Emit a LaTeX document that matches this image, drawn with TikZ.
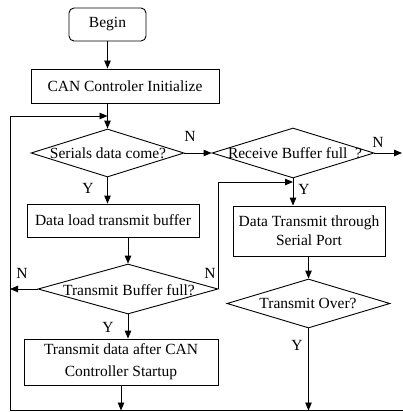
\documentclass[tikz,border=0pt]{standalone}
\usepackage{fontspec}
\setmainfont{Liberation Serif}
\usetikzlibrary{shapes.geometric,arrows.meta}
\begin{document}
\begin{tikzpicture}[x=1pt,y=-1pt,line width=0.9pt,
  every node/.style={font=\fontsize{15.5}{19}\selectfont},
  proc/.style={draw,rectangle,inner sep=0pt,align=center},
  startbox/.style={proc,rounded corners=5pt},
  decide/.style={draw,diamond,inner sep=0pt},
  flow/.style={-{Triangle[length=8pt,width=6.5pt]}}]
\useasboundingbox (0,0) rectangle (403,412);
\node[startbox,minimum width=77pt,minimum height=33pt] (begin) at (107.5,24.5) {Begin};
\node[proc,minimum width=188pt,minimum height=34pt] (init) at (125,86) {CAN Controler Initialize};
\node[decide,minimum width=153pt,minimum height=48pt] (serial) at (107.5,153) {};
\node (serialtxt) at (108,153) {Serials data come?};
\node[decide,minimum width=162pt,minimum height=50pt] (recv) at (293,153) {};
\node (recvtxt) at (295,153) {Receive Buffer full\ \ ?};
\node[proc,minimum width=172pt,minimum height=33pt] (load) at (113,220.5) {Data load transmit buffer};
\node[decide,minimum width=180pt,minimum height=50pt] (tbuf) at (128,289) {};
\node (tbuftxt) at (129,290) {Transmit Buffer full?};
\node[proc,minimum width=152pt,minimum height=50pt] (send) at (309,231) {Data Transmit through\\Serial Port};
\node[decide,minimum width=163pt,minimum height=49pt] (tover) at (308.5,303.5) {};
\node (tovertxt) at (308,303.5) {Transmit Over?};
\node[proc,minimum width=194pt,minimum height=46pt] (tdata) at (121,362) {Transmit data after CAN\\[3pt]Controller Startup};
\coordinate (corner) at (10,410.5);
\coordinate (rightend) at (403,410.5);
\coordinate (loopin) at (107.5,116);
\coordinate (recvin) at (293,182);
\coordinate (outN) at (402,153);
\draw[flow] (begin.south) -- (begin.south |- init.north);
\draw[flow] (init.south -| serial.north) -- (serial.north);
\draw[flow] (corner) -- (corner |- loopin) -- (loopin);
\draw (corner) -- (rightend);
\draw[flow] (serial.east) -- (recv.west);
\draw[flow] (serial.south) -- (serial.south |- load.north);
\draw[flow] (load.south -| tbuf.north) -- (tbuf.north);
\draw[flow] (tbuf.west) -- (tbuf.west -| corner);
\draw[flow] (tbuf.east) -- (tbuf.east |- recvin) -- (recvin);
\draw[flow] (tbuf.south) -- (tbuf.south |- tdata.north);
\draw[flow] (recv.east) -- (outN);
\draw[flow] (recv.south) -- (recv.south |- send.north);
\draw[flow] (send.south -| tover.north) -- (tover.north);
\draw[flow] (tover.south) -- (tover.south |- corner);
\draw[flow] (tdata.south) -- (tdata.south |- corner);
\node (n1) at (190,136) {N};
\node (n2) at (378,142) {N};
\node (n3) at (22,273) {N};
\node (n4) at (210,273) {N};
\node (y1) at (88,188) {Y};
\node (y2) at (304,189) {Y};
\node (y3) at (108,327) {Y};
\node (y4) at (297,345) {Y};
\end{tikzpicture}
\end{document}
